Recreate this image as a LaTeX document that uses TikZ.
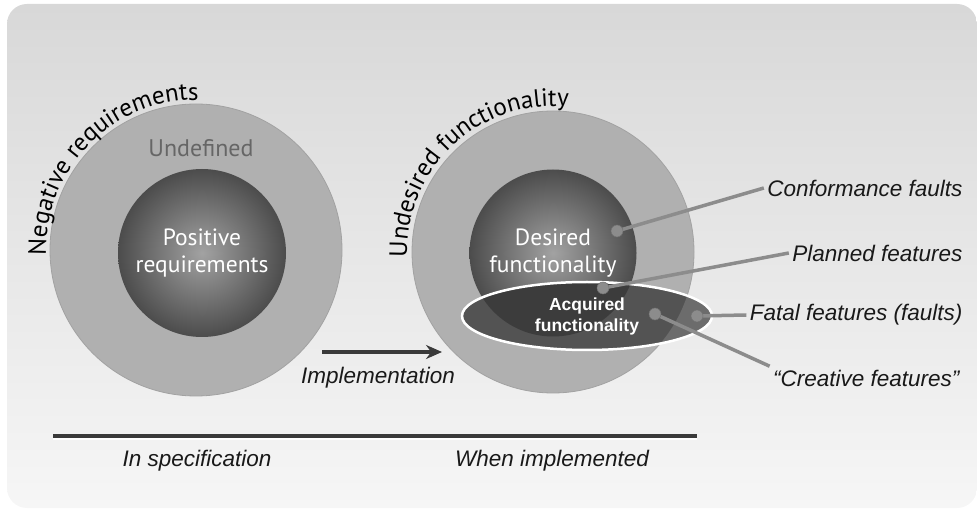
\documentclass[tikz,border=0pt]{standalone}
\usepackage{fontspec}
\setmainfont{Liberation Sans}
\newfontfamily\myriad{PT Sans}
\usetikzlibrary{shapes.geometric,arrows.meta,decorations.text}
\definecolor{paneltop}{HTML}{D8D8D8}
\definecolor{panelbot}{HTML}{F6F6F6}
\definecolor{ringgray}{HTML}{B0B0B0}
\definecolor{ringedge}{HTML}{A2A2A2}
\definecolor{corehi}{HTML}{A2A2A2}
\definecolor{corelo}{HTML}{4C4C4C}
\definecolor{acqdark}{HTML}{3C3C3C}
\definecolor{acqmid}{HTML}{535353}
\definecolor{acqlight}{HTML}{6C6C6C}
\definecolor{dotgray}{HTML}{8C8C8C}
\definecolor{darkline}{HTML}{3A3A3A}
\begin{document}
\begin{tikzpicture}[x=1pt,y=1pt,
    ring/.style={circle,draw=ringedge,line width=0.8pt,fill=ringgray,minimum size=#1,inner sep=0pt},
    core/.style={circle,inner color=corehi,outer color=corelo,minimum size=#1,inner sep=0pt,
        text=white,align=center,font=\myriad\fontsize{23.5}{27}\selectfont},
    dot/.style={circle,fill=dotgray,draw=dotgray!80!black,line width=0.5pt,minimum size=12pt,inner sep=0pt},
    feeler/.style={draw=dotgray,line width=3.5pt},
    lbl/.style={font=\fontsize{22.5}{26}\selectfont\itshape,text=black!90},
    arclbl/.style={decorate,decoration={text along path,text align=center,
        text={|\myriad\fontsize{25}{25}\selectfont|#1}}}]
    \useasboundingbox (0,0) rectangle (977,-510);
    % panel
    \shade[top color=paneltop,bottom color=panelbot,rounded corners=20pt] (7,-4) rectangle (977,-508);

    % in specification
    \node[ring=292pt] (outerL) at (196,-250) {};
    \node[core=168pt] (coreL) at (202,-253) {Positive\\requirements};
    \node[font=\myriad\fontsize{24}{24}\selectfont,text=black!60] (undef) at (201,-148) {Undefined};
    \path[arclbl={Negative requirements}] ([shift={(181:150)}]outerL.center) arc[start angle=181,end angle=90,radius=150];

    % when implemented
    \node[ring=282pt] (outerR) at (553,-252) {};
    \node[core=167pt] (coreR) at (553,-253) {Desired\\functionality};
    \path[arclbl={Undesired functionality}] ([shift={(180:146)}]outerR.center) arc[start angle=180,end angle=86,radius=146];

    \fill[acqmid] (587,-316) ellipse[x radius=125,y radius=34];
    \begin{scope}
        \clip (587,-316) ellipse[x radius=125,y radius=34];
        \fill[acqdark] (coreR.center) circle[radius=83.5];
        \fill[acqlight,even odd rule] (440,-260) rectangle (730,-370) (outerR.center) circle[radius=141];
    \end{scope}
    \node[ellipse,draw=white,line width=2.5pt,minimum width=250pt,minimum height=68pt,inner sep=0pt,
        text=white,align=center,font=\bfseries\fontsize{17.5}{21}\selectfont] (acq) at (587,-316) {Acquired\\functionality};

    % labels on the right
    \node[lbl,anchor=east] (cf) at (966,-188) {Conformance faults};
    \node[lbl,anchor=east] (pf) at (966,-253) {Planned features};
    \node[lbl,anchor=east] (ff) at (966,-315) {Fatal features (faults)};
    \node[lbl,anchor=east] (cr) at (963,-378) {``Creative features''};

    \coordinate (pcf) at (617,-231);
    \coordinate (ppf) at (603,-288);
    \coordinate (pff) at (697,-316);
    \coordinate (pcr) at (655,-314);
    \draw[feeler] (pcf) -- (cf.west);
    \draw[feeler] (ppf) -- (pf.west);
    \draw[feeler] (pff) -- (ff.west);
    \draw[feeler] (pcr) -- (cr.north west);
    \foreach \p in {pcf,ppf,pff,pcr}
        \node[dot] at (\p) {};

    % implementation arrow
    \node (a1) at (322,-352) {};
    \node (a2) at (442,-352) {};
    \draw[darkline,line width=4pt,-{Stealth[length=16pt,width=14pt]}] (a1.center) -- (a2.center);
    \node[lbl] (impl) at (378,-378) {Implementation};

    % bottom
    \coordinate (b1) at (53,-436);
    \coordinate (b2) at (697,-436);
    \draw[white,line width=1.5pt] ([yshift=-3pt]b1) -- ([yshift=-3pt]b2);
    \draw[darkline,line width=4.5pt] (b1) -- (b2);
    \node[lbl] (spec) at (197,-461) {In specification};
    \node[lbl] (when) at (552,-461) {When implemented};
\end{tikzpicture}
\end{document}
